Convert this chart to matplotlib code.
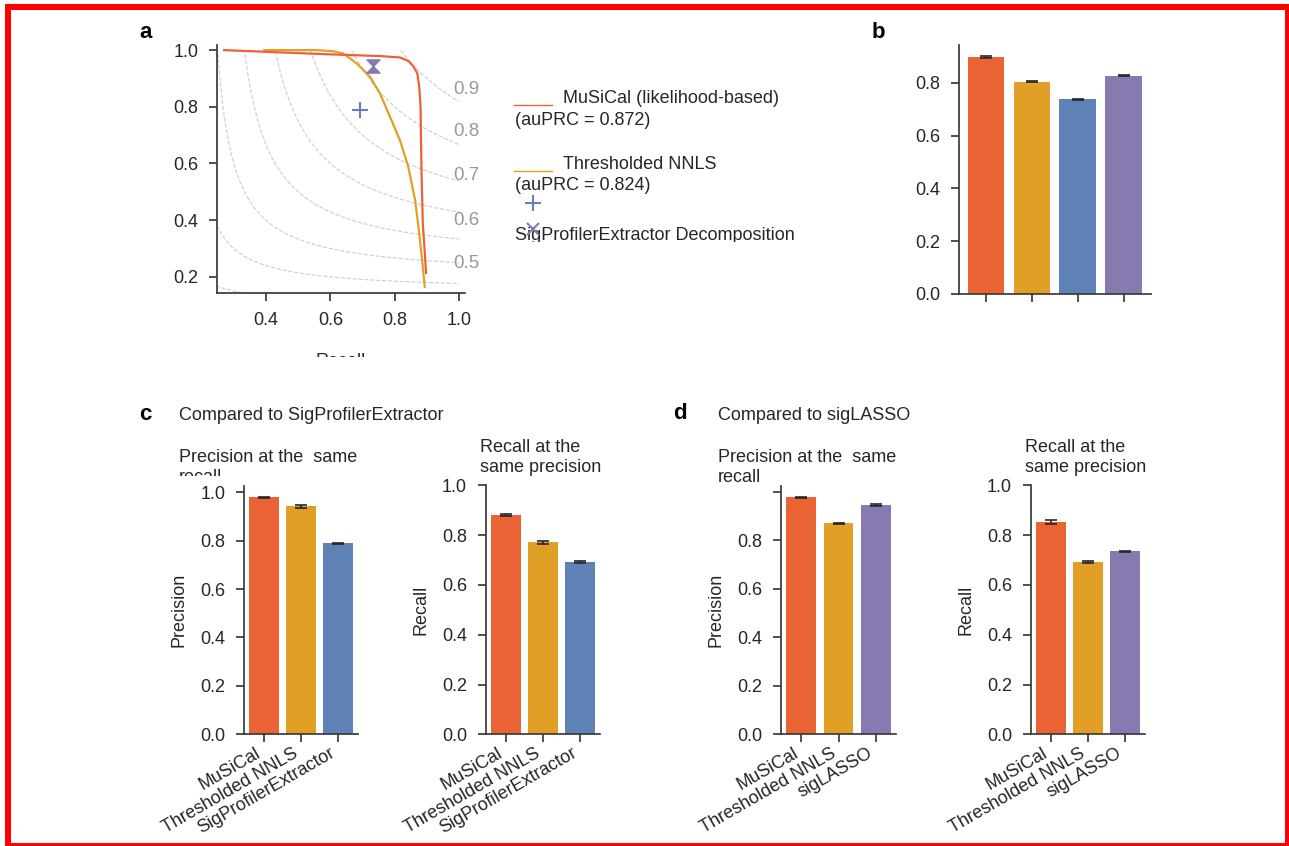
import matplotlib
matplotlib.use("Agg")
import matplotlib.pyplot as plt
import numpy as np
from matplotlib.patches import Rectangle
from matplotlib.lines import Line2D
from matplotlib.path import Path
from matplotlib.transforms import Bbox, TransformedBbox

W, H = 1289, 846
FS = 13

plt.rcParams['font.family'] = ['Liberation Sans', 'DejaVu Sans']
plt.rcParams['font.size'] = FS
plt.rcParams['text.color'] = '#262626'
plt.rcParams['axes.edgecolor'] = '#3a3a3a'
plt.rcParams['axes.linewidth'] = 1.25
plt.rcParams['axes.labelcolor'] = '#262626'
plt.rcParams['xtick.color'] = '#3a3a3a'
plt.rcParams['ytick.color'] = '#3a3a3a'
plt.rcParams['xtick.labelcolor'] = '#262626'
plt.rcParams['ytick.labelcolor'] = '#262626'

RED = '#EA6335'
YEL = '#E19F26'
BLUE = '#5E82B5'
PURP = '#8879B1'

# ---- panel a: precision-recall curves ----
musical_recall = [0.270, 0.443, 0.599, 0.754, 0.816, 0.842, 0.857, 0.870, 0.876,
                  0.880, 0.883, 0.887, 0.894, 0.897]
musical_prec = [1.000, 0.992, 0.985, 0.979, 0.974, 0.962, 0.944, 0.918, 0.870,
                0.800, 0.565, 0.388, 0.270, 0.214]
nnls_recall = [0.395, 0.557, 0.609, 0.640, 0.682, 0.723, 0.754, 0.785, 0.816,
               0.842, 0.863, 0.876, 0.887, 0.893]
nnls_prec = [1.000, 1.000, 0.996, 0.988, 0.953, 0.906, 0.847, 0.765, 0.682,
             0.588, 0.471, 0.353, 0.235, 0.164]
spe_point = (0.692, 0.790)      # SigProfilerExtractor
siglasso_point = (0.732, 0.944) # sigLASSO
f_scores = [0.2, 0.3, 0.4, 0.5, 0.6, 0.7, 0.8, 0.9]
f_labels = ['0.9', '0.8', '0.7', '0.6', '0.5']
f_label_y = [0.861, 0.712, 0.559, 0.400, 0.247]

# ---- panel b ----
b_values = [0.897, 0.803, 0.737, 0.826]
b_err = [0.003, 0.002, 0.002, 0.002]
b_colors = [RED, YEL, BLUE, PURP]

# ---- panel c ----
c_labels = ['MuSiCal', 'Thresholded NNLS', 'SigProfilerExtractor']
c_prec = [0.979, 0.942, 0.789]
c_prec_err = [0.002, 0.005, 0.003]
c_rec = [0.880, 0.771, 0.691]
c_rec_err = [0.003, 0.005, 0.003]
c_colors = [RED, YEL, BLUE]

# ---- panel d ----
d_labels = ['MuSiCal', 'Thresholded NNLS', 'sigLASSO']
d_prec = [0.977, 0.871, 0.944]
d_prec_err = [0.002, 0.002, 0.004]
d_rec = [0.851, 0.691, 0.735]
d_rec_err = [0.008, 0.003, 0.003]
d_colors = [RED, YEL, PURP]

fig = plt.figure(figsize=(W / 100, H / 100), dpi=100)


def px_axes(l, t, r, b):
    return fig.add_axes([l / W, 1 - b / H, (r - l) / W, (b - t) / H])


def ftext(x, y, s, **kw):
    return fig.text(x / W, 1 - y / H, s, **kw)


def clip_below(t, y):
    # keep only the part of the text above pixel row y
    t.set_clip_box(TransformedBbox(Bbox.from_extents(0, 1 - y / H, 1, 1), fig.transFigure))
    t.set_clip_on(True)


def style(ax):
    for s in ['top', 'right']:
        ax.spines[s].set_visible(False)
    ax.tick_params(length=6, width=1.25, pad=7.5, labelsize=FS)


# panel a
ax = px_axes(217, 45, 465, 293)
style(ax)
xs = np.linspace(0.01, 1, 400)
for f in f_scores:
    ys = f * xs / (2 * xs - f)
    m = (ys >= 0) & (ys <= 1.0) & (2 * xs - f > 0)
    ax.plot(xs[m], ys[m], ls='--', color='#cccccc', lw=0.8, zorder=1)
for lab, y in zip(f_labels, f_label_y):
    ax.text(0.981, y, lab, color='#999999', fontsize=13.5, va='center', ha='left', clip_on=False)
ax.plot(nnls_recall, nnls_prec, color=YEL, lw=1.6, zorder=3)
ax.plot(musical_recall, musical_prec, color=RED, lw=1.6, zorder=3)
ax.plot(*spe_point, marker='+', ms=11, mew=1.5, color=BLUE, ls='none', zorder=4)
hourglass = Path([(-1, 1), (1, 1), (-1, -1), (1, -1), (-1, 1)],
                 [Path.MOVETO, Path.LINETO, Path.LINETO, Path.LINETO, Path.CLOSEPOLY])
ax.plot(*siglasso_point, marker=hourglass, ms=9.5, color=PURP, ls='none', zorder=4)
ax.set_xlim(0.248, 1.018)
ax.set_ylim(0.143, 1.018)
ax.set_xticks([0.4, 0.6, 0.8, 1.0])
ax.set_yticks([0.2, 0.4, 0.6, 0.8, 1.0])
t = ftext(341, 353, 'Recall', ha='center', va='top')
clip_below(t, 357.5)

# legend of panel a, laid out by hand
fig.add_artist(Line2D([514 / W, 552 / W], [1 - 105.5 / H] * 2, color=RED, lw=1.0))
ftext(563, 98, 'MuSiCal (likelihood-based)', va='center')
ftext(515, 120.5, '(auPRC = 0.872)', va='center')
fig.add_artist(Line2D([514 / W, 552 / W], [1 - 171 / H] * 2, color=YEL, lw=1.0))
ftext(563, 164, 'Thresholded NNLS', va='center')
ftext(515, 186, '(auPRC = 0.824)', va='center')
fig.add_artist(Line2D([533 / W], [1 - 203 / H], marker='+', ms=11, mew=1.5, color=BLUE))
t = ftext(515, 235, 'SigProfilerExtractor Decomposition', va='center')
clip_below(t, 242)
fig.add_artist(Line2D([533 / W], [1 - 229 / H], marker='x', ms=8, mew=1.5, color=PURP, zorder=5))

# panel b
ax = px_axes(959, 45, 1151, 294)
style(ax)
ax.bar(range(len(b_values)), b_values, width=0.8, color=b_colors, yerr=b_err, capsize=4,
       error_kw=dict(elinewidth=1.2, capthick=1.2, ecolor='#262626'))
ax.set_xlim(-0.59, 3.6)
ax.set_ylim(0, 0.943)
ax.set_xticks(range(len(b_values)))
ax.set_xticklabels([])
ax.set_yticks([0, 0.2, 0.4, 0.6, 0.8])


def bar_panel(l, r, top, values, errs, colors, labels, ylim, ylabel, hide_top=False):
    ax = px_axes(l, top, r, 734.3)
    style(ax)
    ax.bar(range(len(values)), values, width=0.8, color=colors, yerr=errs, capsize=4,
           error_kw=dict(elinewidth=1.2, capthick=1.2, ecolor='#262626'))
    ax.set_xlim(-0.54, 2.54)
    ax.set_ylim(0, ylim)
    ax.set_yticks([0, 0.2, 0.4, 0.6, 0.8, 1.0])
    if hide_top:
        ax.set_yticklabels(['0.0', '0.2', '0.4', '0.6', '0.8', ''])
    ax.set_xticks(range(len(values)))
    ax.set_xticklabels(labels, rotation=30, ha='right')
    ax.tick_params(axis='x', pad=1.5)
    ax.set_ylabel(ylabel, va='center')
    ax.yaxis.set_label_coords(-65 / (r - l), 0.5)
    return ax


bar_panel(244, 358, 486, c_prec, c_prec_err, c_colors, c_labels, 1.026, 'Precision')
bar_panel(485.7, 600, 485.3, c_rec, c_rec_err, c_colors, c_labels, 1.0, 'Recall')
bar_panel(781, 896, 486, d_prec, d_prec_err, d_colors, d_labels, 1.024, 'Precision', hide_top=True)
bar_panel(1030.7, 1145, 485.3, d_rec, d_rec_err, d_colors, d_labels, 1.0, 'Recall')

# titles
t = ftext(179, 467.5, 'Precision at the  same\nrecall', va='center', linespacing=1.2)
clip_below(t, 476)
ftext(480, 457.5, 'Recall at the\nsame precision', va='center', linespacing=1.2)
ftext(718, 467.5, 'Precision at the  same\nrecall', va='center', linespacing=1.2)
ftext(1025, 457.5, 'Recall at the\nsame precision', va='center', linespacing=1.2)
ftext(179, 415, 'Compared to SigProfilerExtractor', va='center')
ftext(718, 415, 'Compared to sigLASSO', va='center')

# panel letters
for x, y, s in [(146, 33, 'a'), (878, 32, 'b'), (145, 414, 'c'), (680, 413, 'd')]:
    ftext(x, y, s, ha='center', va='center', fontsize=16, fontweight='bold', color='black')

# red frame
fig.add_artist(Rectangle((8 / W, 0.5 / H), 1280 / W, (846 - 8) / H, transform=fig.transFigure,
                         fill=False, edgecolor='#FF0000', lw=4.3, clip_on=False, zorder=10))

fig.savefig('out.png', dpi=100)
